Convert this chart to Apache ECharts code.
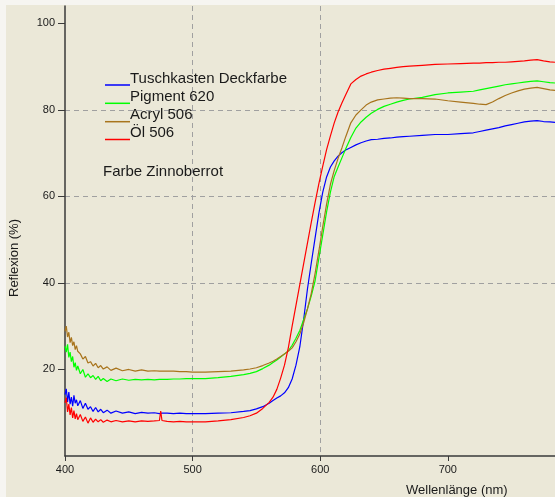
<!DOCTYPE html>
<html>
<head>
<meta charset="utf-8">
<script src="https://cdn.jsdelivr.net/npm/echarts@6/dist/echarts.min.js"></script>
<style>
html,body{margin:0;padding:0;background:#f6f5f1;}
#c{width:555px;height:497px;}
</style>
</head>
<body>
<div id="c"></div>
<script>
// Wavelengths (nm)
var wavelengths = [400,401,402,403,404,405,406,407,408,409,
  410,412,414,416,418,420,422,424,426,428,430,
  433,436,440,445,450,455,460,465,470,474,475,476,
  480,485,490,495,500,510,520,530,540,545,550,555,560,
  563,566,569,572,575,578,581,584,587,590,593,596,599,602,605,608,611,614,617,620,
  624,628,632,636,640,645,650,655,660,665,670,
  680,690,700,710,720,725,730,735,740,745,750,755,760,765,770,775,780,784];

var seriesNames = ['Tuschkasten Deckfarbe', 'Pigment 620', 'Acryl 506', 'Öl 506'];

var tuschkasten = [14.2,15.5,12.5,14.8,12.0,13.6,11.5,14.0,12.2,13.0,
  11.6,12.8,11.0,12.2,10.8,11.4,10.3,11.2,10.2,10.8,10.0,
  10.6,9.9,10.4,9.9,10.2,9.8,10.1,9.9,10.0,9.8,10.0,9.9,
  9.9,9.8,9.9,9.8,9.8,9.8,9.9,10.0,10.3,10.5,10.9,11.4,12.2,
  12.8,13.4,13.9,14.6,15.8,17.8,21.0,25.2,31.5,38.6,44.6,50.4,56.2,61.0,64.5,66.8,68.2,69.3,70.1,70.7,
  71.3,71.9,72.4,72.8,73.1,73.2,73.4,73.5,73.7,73.8,73.9,
  74.1,74.3,74.3,74.5,74.7,75.0,75.3,75.6,75.9,76.3,76.6,76.9,77.2,77.4,77.5,77.3,77.2,77.1];

var pigment620 = [25.4,24.0,25.8,22.8,24.0,21.8,23.0,20.5,21.6,19.8,
  20.8,19.0,20.0,18.2,19.0,18.1,18.6,17.7,18.4,17.4,17.9,
  17.2,17.8,17.4,17.8,17.5,17.7,17.6,17.7,17.6,17.7,17.7,17.7,
  17.7,17.8,17.8,17.9,17.9,17.9,18.1,18.4,18.8,19.1,19.5,20.2,21.0,
  21.6,22.2,22.9,23.6,24.3,25.6,27.2,29.0,31.5,34.0,37.0,40.5,45.8,51.1,56.4,61.0,64.6,66.8,68.9,71.0,
  73.6,75.8,77.2,78.3,79.2,80.1,80.8,81.3,81.8,82.2,82.5,
  82.9,83.5,83.9,84.1,84.3,84.6,84.9,85.2,85.5,85.8,86.0,86.2,86.4,86.6,86.7,86.5,86.3,86.2];

var acryl506 = [28.8,30.0,27.5,28.6,26.2,27.4,25.5,26.4,24.6,25.5,
  24.2,23.6,22.4,23.0,21.5,21.8,20.8,21.4,20.4,20.9,20.1,
  20.6,19.8,20.3,19.7,20.0,19.6,19.9,19.6,19.7,19.6,19.7,19.6,
  19.6,19.6,19.5,19.5,19.4,19.4,19.5,19.6,19.9,20.1,20.4,20.9,21.5,
  21.9,22.4,23.0,23.6,24.2,25.0,26.4,28.2,30.8,34.0,37.6,42.2,47.5,53.0,58.2,62.8,66.0,68.8,71.2,73.8,
  77.0,78.8,80.0,81.1,81.8,82.3,82.5,82.7,82.8,82.7,82.6,
  82.6,82.5,82.1,81.8,81.5,81.3,81.2,81.8,82.6,83.3,83.9,84.4,84.8,85.0,85.2,84.9,84.6,84.5];

var oel506 = [12.3,13.5,10.2,12.0,9.5,11.2,8.8,10.5,8.6,9.8,
  8.4,9.6,8.0,9.0,7.6,8.8,7.8,8.5,7.9,8.4,7.8,
  8.3,7.9,8.2,7.9,8.1,7.9,8.1,8.0,8.1,8.2,10.4,8.2,
  8.0,7.9,8.0,7.9,7.9,7.9,8.1,8.4,8.9,9.3,9.9,11.0,12.4,
  13.6,15.4,18.0,21.0,25.0,30.0,34.8,39.6,44.4,49.2,54.0,58.6,63.0,67.0,70.8,74.0,77.0,79.5,81.6,83.5,
  86.0,87.0,87.8,88.3,88.7,89.1,89.4,89.6,89.8,90.0,90.1,
  90.3,90.5,90.6,90.7,90.8,90.8,90.9,90.9,91.0,91.0,91.1,91.2,91.3,91.5,91.6,91.3,91.1,91.0];

var yTicks = [20, 40, 60, 80, 100];
var xTicks = [400, 500, 600, 700];

var colors = ['#0000ff', '#00ff00', '#a8741c', '#ff0000'];
var allValues = [tuschkasten, pigment620, acryl506, oel506];

function pairs(vals) { return wavelengths.map(function (w, i) { return [w, vals[i]]; }); }

var font = '"Liberation Sans", Arial, sans-serif';
var chart = echarts.init(document.getElementById('c'), null, {renderer: 'canvas'});

// legend: line swatches (below the text baseline) and names, as separate legend rows
var legendLineY = [85, 103.3, 121.7, 139.5];
var legends = [];
seriesNames.forEach(function (n, i) {
  legends.push({
    data: [n], left: 105, top: legendLineY[i] - 0.75, padding: 0,
    icon: 'rect', itemWidth: 25, itemHeight: 1.5, selectedMode: false,
    formatter: function () { return ''; },
    textStyle: {fontSize: 1}
  });
  legends.push({
    data: [n], left: 125, top: legendLineY[i] - 14.5, padding: 0,
    icon: 'rect', itemWidth: 0, itemHeight: 0, selectedMode: false,
    itemStyle: {opacity: 0},
    textStyle: {fontFamily: font, fontSize: 15, color: '#1a1a1a', lineHeight: 16}
  });
});

chart.setOption({
  animation: false,
  backgroundColor: '#ebe8d8',
  color: colors,
  textStyle: {fontFamily: font},
  graphic: [
    {type: 'rect', shape: {x: 0, y: 0, width: 6, height: 497}, style: {fill: '#f6f5f1'}, silent: true},
    {type: 'rect', shape: {x: 0, y: 0, width: 555, height: 5}, style: {fill: '#f6f5f1'}, silent: true}
  ],
  title: [
    {text: 'Farbe Zinnoberrot', left: 103, top: 163, padding: 0,
     textStyle: {fontFamily: font, fontSize: 15, fontWeight: 'normal', color: '#1a1a1a', lineHeight: 18}},
    {text: 'Wellenlänge (nm)', left: 406, top: 482, padding: 0,
     textStyle: {fontFamily: font, fontSize: 13, fontWeight: 'normal', color: '#1a1a1a', lineHeight: 16}}
  ],
  legend: legends,
  grid: {left: 62, right: 0, top: 6, bottom: 41, containLabel: false},
  xAxis: {
    type: 'value', min: 400, max: 784, interval: 100,
    axisLine: {show: true, onZero: false, lineStyle: {color: '#3a3a3a', width: 1.5}},
    axisTick: {show: true, length: 5, customValues: xTicks, lineStyle: {color: '#3a3a3a'}},
    axisLabel: {customValues: xTicks, fontSize: 11, color: '#1a1a1a', margin: 8, fontFamily: font},
    splitLine: {show: true, showMinLine: false, showMaxLine: false,
      lineStyle: {color: '#a0a0a0', type: [5, 4], width: 1}}
  },
  yAxis: {
    type: 'value', min: 0, max: 104, interval: 20,
    name: 'Reflexion (%)', nameLocation: 'middle', nameGap: 44, nameRotate: 90,
    nameTextStyle: {fontFamily: font, fontSize: 13, color: '#1a1a1a', padding: [0, 54, 0, 0]},
    axisLine: {show: true, onZero: false, lineStyle: {color: '#3a3a3a', width: 1.5}},
    axisTick: {show: true, length: 7, customValues: yTicks, lineStyle: {color: '#3a3a3a'}},
    axisLabel: {customValues: yTicks, fontSize: 11, color: '#1a1a1a', margin: 10, fontFamily: font},
    splitLine: {show: true, showMinLine: false, showMaxLine: false,
      lineStyle: {color: '#a0a0a0', type: [5, 4], width: 1}}
  },
  series: seriesNames.map(function (n, i) {
    return {
      name: n, type: 'line', data: pairs(allValues[i]), showSymbol: false, symbol: 'none',
      lineStyle: {width: 1.2, color: colors[i]}, itemStyle: {color: colors[i]},
      clip: true, z: 2 + (i === 3 ? 1 : 0)
    };
  })
});
</script>
</body>
</html>
